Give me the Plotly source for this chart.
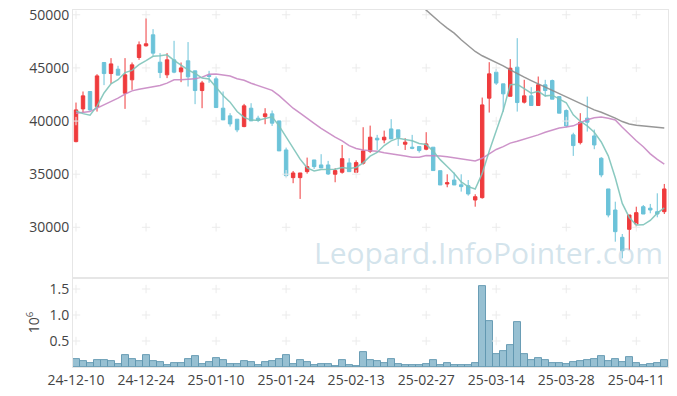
import plotly.graph_objects as go
from plotly.subplots import make_subplots
import pandas as pd

dates = [
    "24-12-10", "24-12-11", "24-12-12", "24-12-13", "24-12-16", "24-12-17", "24-12-18", "24-12-19",
    "24-12-20", "24-12-23", "24-12-24", "24-12-26", "24-12-27", "24-12-30",
    "25-01-02", "25-01-03", "25-01-06", "25-01-07", "25-01-08", "25-01-09", "25-01-10", "25-01-13",
    "25-01-14", "25-01-15", "25-01-16", "25-01-17", "25-01-20", "25-01-21", "25-01-22", "25-01-23",
    "25-01-24", "25-01-31",
    "25-02-03", "25-02-04", "25-02-05", "25-02-06", "25-02-07", "25-02-10", "25-02-11", "25-02-12",
    "25-02-13", "25-02-14", "25-02-17", "25-02-18", "25-02-19", "25-02-20", "25-02-21", "25-02-24",
    "25-02-25", "25-02-26", "25-02-27", "25-02-28",
    "25-03-04", "25-03-05", "25-03-06", "25-03-07", "25-03-10", "25-03-11", "25-03-12", "25-03-13",
    "25-03-14", "25-03-17", "25-03-18", "25-03-19", "25-03-20", "25-03-21", "25-03-24", "25-03-25",
    "25-03-26", "25-03-27", "25-03-28", "25-03-31",
    "25-04-01", "25-04-02", "25-04-03", "25-04-04", "25-04-07", "25-04-08", "25-04-09", "25-04-10",
    "25-04-11", "25-04-14", "25-04-15", "25-04-16", "25-04-17",
]

open_ = [38065, 41145, 42780, 41360, 45510, 44470, 44880, 42620, 43880, 45980,
         47080, 48115, 45540, 44350, 45760, 44630, 45670, 44725, 42870, 44300,
         43970, 41210, 40490, 40175, 39480, 41210, 40270, 40420, 40675, 40015,
         37280, 34674, 34674, 35240, 36340, 35870, 35870, 34995, 35180, 36060,
         35180, 36030, 37160, 38385, 38225, 39260, 39170, 37820, 37540, 37600,
         37350, 37540, 35330, 34080, 34450, 34000, 33920, 32570, 32790, 42150,
         44600, 43500, 42330, 45070, 41775, 42370, 41460, 43410, 43810, 42300,
         40990, 38700, 37970, 40270, 38600, 36500, 33610, 31630, 29060, 29810,
         30310, 31940, 31800, 31470, 31470]
high = [41740, 42780, 42780, 44410, 45510, 45920, 45200, 45920, 45510, 47490,
        49690, 48650, 46390, 46390, 47550, 45510, 47430, 44725, 43780, 44725,
        44190, 42780, 40740, 40175, 41615, 41680, 40500, 41210, 40990, 40015,
        37500, 35300, 35115, 36560, 36340, 36880, 36250, 35560, 37750, 36500,
        36300, 39420, 39570, 38700, 39100, 40175, 39170, 38385, 38700, 37600,
        38950, 37540, 35330, 34990, 35150, 34990, 34450, 33110, 42210, 45540,
        44900, 43500, 45830, 47800, 43880, 43190, 44190, 43880, 43900, 42300,
        41100, 38900, 40740, 42300, 39200, 36600, 33610, 32410, 29370, 31160,
        31940, 32100, 32200, 33200, 34080]
low = [38000, 40800, 40950, 40890, 43380, 43500, 44320, 41145, 42935, 45760,
       47010, 46140, 44040, 44040, 44500, 43660, 43250, 41590, 41210, 43600,
       41270, 40110, 39480, 38950, 39420, 40015, 39900, 39700, 39540, 37190,
       34700, 34150, 32670, 35050, 35490, 35590, 34930, 34240, 35050, 35240,
       35100, 35900, 37000, 37280, 37910, 38320, 37660, 37280, 37350, 37030,
       37250, 35340, 33985, 33770, 33985, 33360, 32980, 31940, 32700, 40800,
       43400, 40890, 42330, 40890, 41650, 41460, 41460, 42300, 42060, 40740,
       39400, 36720, 37800, 39010, 37350, 34710, 30940, 28645, 27080, 27860,
       30060, 31250, 31320, 30940, 31250]
close = [41050, 42370, 41050, 44250, 44470, 45380, 44320, 44350, 45290, 47175,
         47270, 46390, 44565, 45760, 44600, 45000, 44160, 42870, 43590, 44200,
         41270, 40110, 39730, 39170, 41430, 40015, 40050, 40675, 39800, 37190,
         34860, 35115, 35115, 35710, 35710, 35590, 35020, 35335, 36460, 35240,
         36090, 37190, 38480, 38225, 38480, 38320, 38440, 38010, 37440, 37220,
         37850, 35340, 33985, 34200, 33985, 33830, 33140, 32880, 41520, 44440,
         43570, 42560, 44975, 41740, 42370, 41460, 43410, 42870, 42060, 40740,
         39540, 37690, 39890, 39890, 37750, 34930, 31160, 29590, 27800, 31160,
         31380, 31250, 31630, 31250, 33610]

volume = [154000, 115000, 77000, 135000, 135000, 115000, 58000, 230000, 154000, 115000,
          230000, 115000, 96000, 40000, 77000, 77000, 154000, 210000, 58000, 96000,
          173000, 135000, 58000, 58000, 115000, 96000, 40000, 96000, 115000, 154000,
          230000, 58000, 135000, 96000, 40000, 58000, 58000, 20000, 135000, 40000,
          20000, 290000, 135000, 115000, 77000, 154000, 58000, 40000, 40000, 40000,
          58000, 135000, 40000, 77000, 40000, 40000, 40000, 77000, 1560000, 885000,
          250000, 310000, 420000, 865000, 250000, 135000, 173000, 135000, 77000, 77000,
          58000, 96000, 115000, 135000, 154000, 210000, 115000, 154000, 96000, 190000,
          77000, 40000, 58000, 77000, 135000]

# moving-average values before enough in-window closes exist
ma5_head = [40950, 40700, 40550, 41400]
ma20_head = [40740, 40800, 40890, 41210, 41520, 41830, 42150, 42530, 42840, 43000,
             43100, 43190, 43340, 43570, 43880, 43880, 43910, 43970, 44130]
ma60_start = 48
ma60_vals = [51600, 51000, 50440, 49780, 49275, 48750, 48275, 47645, 47110, 46545,
             46140, 45830, 45510, 45200, 44820, 44440, 44130, 43810, 43500, 43190,
             42870, 42530, 42250, 41930, 41615, 41360, 41050, 40830, 40580, 40270,
             39950, 39730, 39610, 39540, 39480, 39420, 39355]

price_ticks = [30000, 35000, 40000, 45000, 50000]
vol_ticks = [500000, 1000000, 1500000]
vol_tick_text = ["0.5", "1.0", "1.5"]
date_ticks = dates[::10]

s = pd.Series(close, dtype=float)
ma5 = s.rolling(5).mean().tolist()
ma5[:4] = ma5_head
ma20 = s.rolling(20).mean().tolist()
ma20[:19] = ma20_head
ma60 = [None] * ma60_start + ma60_vals

UP = "#EF3B3D"
DOWN = "#6CC3D9"
GRID = "#E6E6E6"
CROSS = "#EBEBEB"

fig = make_subplots(rows=2, cols=1, shared_xaxes=True, vertical_spacing=0,
                    row_heights=[0.751, 0.249])

# grid intersection crosses (drawn first, beneath the data)
cx, cy = [], []
for d in date_ticks:
    for p in price_ticks:
        cx.append(d); cy.append(p)
fig.add_trace(go.Scatter(x=cx, y=cy, mode="markers",
                         marker=dict(symbol="cross-thin", size=6,
                                     line=dict(color=CROSS, width=1)),
                         showlegend=False, hoverinfo="skip"), row=1, col=1)
vx, vy = [], []
for d in date_ticks:
    for v in vol_ticks:
        vx.append(d); vy.append(v)
fig.add_trace(go.Scatter(x=vx, y=vy, mode="markers",
                         marker=dict(symbol="cross-thin", size=6,
                                     line=dict(color=CROSS, width=1)),
                         showlegend=False, hoverinfo="skip"), row=2, col=1)

fig.add_trace(go.Candlestick(
    x=dates, open=open_, high=high, low=low, close=close,
    increasing=dict(line=dict(color=UP, width=1), fillcolor=UP),
    decreasing=dict(line=dict(color=DOWN, width=1), fillcolor=DOWN),
    whiskerwidth=0, showlegend=False, hoverinfo="skip"), row=1, col=1)

fig.add_trace(go.Scatter(x=dates, y=ma60, mode="lines",
                         line=dict(color="rgba(140,140,140,0.9)", width=1.5),
                         showlegend=False, hoverinfo="skip"), row=1, col=1)
fig.add_trace(go.Scatter(x=dates, y=ma20, mode="lines",
                         line=dict(color="rgba(200,135,195,0.9)", width=1.5),
                         showlegend=False, hoverinfo="skip"), row=1, col=1)
fig.add_trace(go.Scatter(x=dates, y=ma5, mode="lines",
                         line=dict(color="rgba(125,195,185,0.9)", width=1.5),
                         showlegend=False, hoverinfo="skip"), row=1, col=1)

fig.add_trace(go.Bar(x=dates, y=volume,
                     marker=dict(color="rgba(140,185,205,0.9)",
                                 line=dict(color="rgba(95,150,175,0.9)", width=1)),
                     showlegend=False, hoverinfo="skip"), row=2, col=1)

axis_font = dict(family="Open Sans, Noto Sans, sans-serif", size=14, color="#444")

fig.update_xaxes(type="category", categoryorder="array", categoryarray=dates,
                 range=[-0.43, 84.53], showgrid=False,
                 showline=True, linecolor=GRID, mirror=True, ticks="",
                 rangeslider_visible=False, zeroline=False, automargin=False)
fig.update_xaxes(showticklabels=False, row=1, col=1)
fig.update_xaxes(tickmode="array", tickvals=date_ticks, ticktext=date_ticks,
                 tickfont=axis_font, tickangle=0, ticklabeloverflow="allow",
                 row=2, col=1)

fig.update_yaxes(range=[25220, 50450], tickvals=price_ticks,
                 ticktext=[str(p) for p in price_ticks], showgrid=False,
                 showline=True, linecolor=GRID, mirror=True, ticks="",
                 tickfont=axis_font, zeroline=False, automargin=False,
                 ticklabeloverflow="allow", row=1, col=1)
fig.update_yaxes(range=[0, 1710000], tickvals=vol_ticks, ticktext=vol_tick_text,
                 showgrid=False, showline=True, linecolor=GRID, mirror=True,
                 ticks="", tickfont=axis_font, zeroline=False, automargin=False,
                 ticklabeloverflow="allow",
                 title=dict(text="10<sup>6</sup>", font=axis_font, standoff=6),
                 row=2, col=1)

fig.add_annotation(text="Leopard.InfoPointer.com", xref="paper", yref="paper",
                   x=0.698, y=0.322, xanchor="center", yanchor="middle",
                   showarrow=False,
                   font=dict(family="Open Sans, Noto Sans, sans-serif", size=30,
                             color="rgba(175,205,220,0.55)"))

# page body adds an 8px offset, so the figure is sized to fit the 677x396 window
fig.update_layout(width=669, height=388, margin=dict(l=65, r=9, t=2, b=29),
                  paper_bgcolor="white", plot_bgcolor="white", bargap=0,
                  hovermode=False)

fig.write_html("out.html")
